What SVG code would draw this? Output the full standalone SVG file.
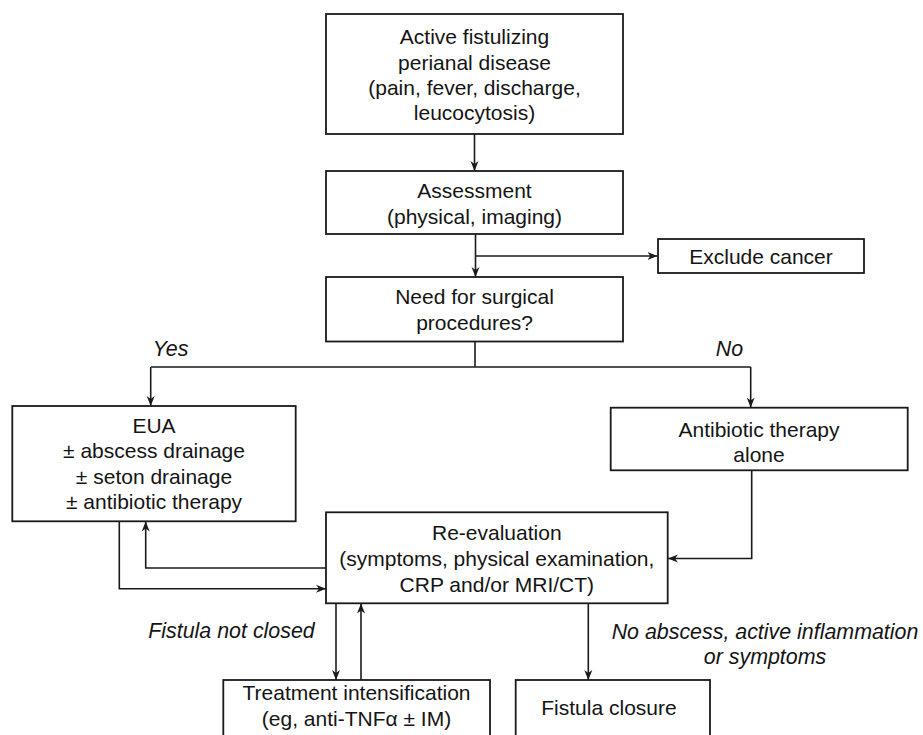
<svg xmlns="http://www.w3.org/2000/svg" width="923" height="735" viewBox="0 0 923 735">
<style>
  .box { fill: #ffffff; stroke: #1a1a1a; stroke-width: 1.8; }
  .t { font-family: "Liberation Sans", Arial, sans-serif; font-size: 21px; fill: #141414; text-anchor: middle; }
  .lbl { font-family: "Liberation Sans", Arial, sans-serif; font-size: 21.4px; font-style: italic; fill: #141414; text-anchor: middle; }
  .c { fill: none; stroke: #1a1a1a; stroke-width: 1.6; }
  .a { marker-end: url(#arr); }
</style>
<defs>
  <marker id="arr" viewBox="0 0 10 10" refX="10" refY="5" markerWidth="10" markerHeight="10" markerUnits="userSpaceOnUse" orient="auto">
    <path d="M0,1 L10,5 L0,9 L3,5 z" fill="#1a1a1a"/>
  </marker>
</defs>
<rect width="923" height="735" fill="#ffffff"/>

<g id="connectors">
  <path class="c a" d="M474.5,134 V171"/>
  <path class="c a" d="M475.5,234 V277"/>
  <path class="c a" d="M475.5,256 H657.5"/>
  <path class="c" d="M475,341.5 V367"/>
  <path class="c" d="M150.7,367 H750.7"/>
  <path class="c a" d="M150.7,367 V406"/>
  <path class="c a" d="M750.7,367 V407.5"/>
  <path class="c a" d="M119.3,521 V588.7 H326"/>
  <path class="c a" d="M326,568 H145.7 V521.5"/>
  <path class="c a" d="M751.7,470 V558.5 H668"/>
  <path class="c a" d="M336,603.5 V680"/>
  <path class="c a" d="M361,680 V603.5"/>
  <path class="c a" d="M588.3,603.5 V680"/>
</g>

<g id="n-active">
  <rect class="box" x="326" y="14" width="297" height="120"/>
  <text class="t" x="474.5" y="44">Active fistulizing</text>
  <text class="t" x="474.5" y="69.5">perianal disease</text>
  <text class="t" x="474.5" y="94.5">(pain, fever, discharge,</text>
  <text class="t" x="474.5" y="120">leucocytosis)</text>
</g>

<g id="n-assessment">
  <rect class="box" x="326" y="171" width="297" height="63"/>
  <text class="t" x="474.5" y="198">Assessment</text>
  <text class="t" x="474.5" y="224">(physical, imaging)</text>
</g>

<g id="n-exclude">
  <rect class="box" x="658" y="239" width="206" height="34"/>
  <text class="t" x="761" y="263.5">Exclude cancer</text>
</g>

<g id="n-need">
  <rect class="box" x="326" y="277" width="297" height="64.5"/>
  <text class="t" x="474.5" y="303.5">Need for surgical</text>
  <text class="t" x="474.5" y="329.5">procedures?</text>
</g>

<g id="l-yes"><text class="lbl" x="170.5" y="355.5">Yes</text></g>
<g id="l-no"><text class="lbl" x="729.5" y="355.5">No</text></g>

<g id="n-eua">
  <rect class="box" x="12.3" y="406" width="283.4" height="115.3"/>
  <text class="t" x="154" y="433">EUA</text>
  <text class="t" x="154" y="458">± abscess drainage</text>
  <text class="t" x="154" y="483.5">± seton drainage</text>
  <text class="t" x="154" y="509">± antibiotic therapy</text>
</g>

<g id="n-antibiotic">
  <rect class="box" x="610.7" y="407.7" width="297" height="62.6"/>
  <text class="t" x="759" y="436.5">Antibiotic therapy</text>
  <text class="t" x="759" y="461.5">alone</text>
</g>

<g id="n-reeval">
  <rect class="box" x="326" y="512.3" width="341.7" height="91"/>
  <text class="t" x="496.8" y="540">Re-evaluation</text>
  <text class="t" x="496.8" y="566">(symptoms, physical examination,</text>
  <text class="t" x="496.8" y="591.5">CRP and/or MRI/CT)</text>
</g>

<g id="l-notclosed"><text class="lbl" x="231.5" y="637.5">Fistula not closed</text></g>
<g id="l-noabscess">
  <text class="lbl" x="765" y="638.5">No abscess, active inflammation</text>
  <text class="lbl" x="765" y="663.5">or symptoms</text>
</g>

<g id="n-treatment">
  <rect class="box" x="223.3" y="680" width="266.7" height="70"/>
  <text class="t" x="356.5" y="700">Treatment intensification</text>
  <text class="t" x="356.5" y="725.5">(eg, anti-TNFα ± IM)</text>
</g>

<g id="n-closure">
  <rect class="box" x="515.7" y="680" width="194.3" height="70"/>
  <text class="t" x="609" y="714.5">Fistula closure</text>
</g>
</svg>
